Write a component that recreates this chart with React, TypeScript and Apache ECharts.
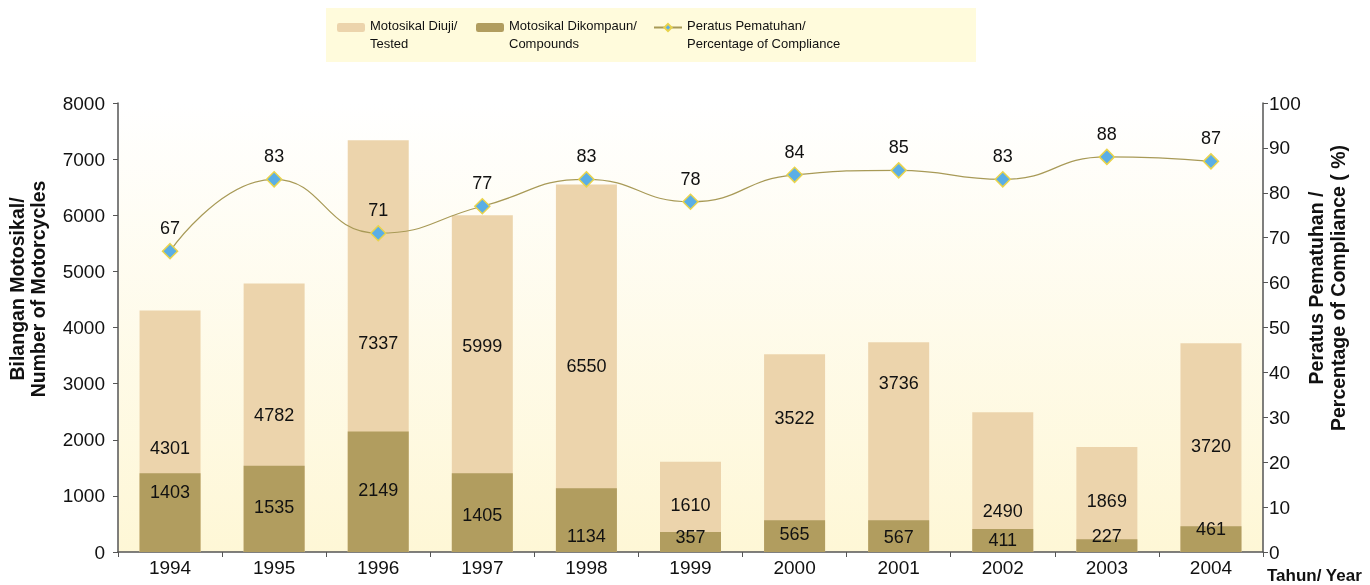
import React, { useEffect, useRef } from "react";
import * as echarts from "echarts";

const years = ["1994", "1995", "1996", "1997", "1998", "1999", "2000", "2001", "2002", "2003", "2004"];
const tested = [4301, 4782, 7337, 5999, 6550, 1610, 3522, 3736, 2490, 1869, 3720];
const compounds = [1403, 1535, 2149, 1405, 1134, 357, 565, 567, 411, 227, 461];
const compliance = [67, 83, 71, 77, 83, 78, 84, 85, 83, 88, 87];

// label nudges (pixels) to mimic the original label placement
const testedLabelShift = [17, -3, -3, -38, -2, -2, -35, -64, 29, 1, -2];
const compoundLabelShift = [-21, -2, -2, 2, 16, -5, -2, 1, 0, -10, -10];

const NAME_TESTED = "Motosikal Diuji/\nTested";
const NAME_COMP = "Motosikal Dikompaun/\nCompounds";
const NAME_PCT = "Peratus Pematuhan/\nPercentage of Compliance";

const FONT = "'Liberation Sans', Arial, Helvetica, sans-serif";

export default function App() {
  const ref = useRef<HTMLDivElement>(null);
  useEffect(() => {
    if (!ref.current) return;
    const chart = echarts.init(ref.current, undefined, { renderer: "svg" });
    const legendBase = {
      orient: "horizontal",
      top: 9,
      padding: 0,
      itemWidth: 28,
      itemHeight: 9,
      itemGap: 6,
      formatter: (name: string) =>
        "{gap| }\n" + name.split("\n").map((s) => "{t|" + s + "}").join("\n"),
      textStyle: {
        fontFamily: FONT,
        fontSize: 13,
        color: "#111",
        rich: {
          gap: { fontSize: 1, lineHeight: 14 },
          t: { fontFamily: FONT, fontSize: 13, lineHeight: 18, color: "#111" },
        },
      },
    };
    chart.setOption({
      animation: false,
      textStyle: { fontFamily: FONT },
      graphic: [
        {
          type: "rect",
          z: 0,
          shape: { x: 326, y: 8, width: 650, height: 54 },
          style: { fill: "#FFFBDC" },
        },
        {
          type: "text",
          x: 27,
          y: 289,
          rotation: Math.PI / 2,
          style: {
            text: "Bilangan Motosikal/\nNumber of Motorcycles",
            fontFamily: FONT,
            fontSize: 19.5,
            fontWeight: "bold",
            lineHeight: 21,
            align: "center",
            verticalAlign: "middle",
            fill: "#111",
          },
        },
        {
          type: "text",
          x: 1327,
          y: 288,
          rotation: Math.PI / 2,
          style: {
            text: "Peratus Pematuhan /\nPercentage of Compliance ( %)",
            fontFamily: FONT,
            fontSize: 19.5,
            fontWeight: "bold",
            lineHeight: 22,
            align: "center",
            verticalAlign: "middle",
            fill: "#111",
          },
        },
        {
          type: "text",
          x: 1267,
          y: 575,
          style: {
            text: "Tahun/ Year",
            fontFamily: FONT,
            fontSize: 17,
            fontWeight: "bold",
            align: "left",
            verticalAlign: "middle",
            fill: "#111",
          },
        },
      ],
      legend: [
        { ...legendBase, left: 337, data: [NAME_TESTED] },
        { ...legendBase, left: 476, data: [NAME_COMP] },
        { ...legendBase, left: 653, data: [NAME_PCT] },
      ],
      grid: {
        left: 118,
        right: 107,
        top: 103,
        bottom: 33,
        show: true,
        borderWidth: 0,
        backgroundColor: new echarts.graphic.LinearGradient(0, 0, 0, 1, [
          { offset: 0, color: "#FFFFFF" },
          { offset: 1, color: "#FEF7D6" },
        ]),
      },
      xAxis: {
        type: "category",
        data: years,
        axisLine: { lineStyle: { color: "#555", width: 1.5 } },
        axisTick: { show: true, alignWithLabel: false, length: 5, lineStyle: { color: "#555" } },
        axisLabel: { fontFamily: FONT, fontSize: 19, color: "#111", margin: 6 },
      },
      yAxis: [
        {
          type: "value",
          min: 0,
          max: 8000,
          interval: 1000,
          splitLine: { show: false },
          axisLine: { show: true, lineStyle: { color: "#555", width: 1.5 } },
          axisTick: { show: true, length: 5, lineStyle: { color: "#555" } },
          axisLabel: {
            fontFamily: FONT,
            fontSize: 19,
            color: "#111",
            margin: 13,
            formatter: (v: number) => String(v),
          },
        },
        {
          type: "value",
          min: 0,
          max: 100,
          interval: 10,
          position: "right",
          splitLine: { show: false },
          axisLine: { show: true, lineStyle: { color: "#555", width: 1.5 } },
          axisTick: { show: true, length: 5, lineStyle: { color: "#555" } },
          axisLabel: {
            fontFamily: FONT,
            fontSize: 19,
            color: "#111",
            margin: 6,
            formatter: (v: number) => String(v),
          },
        },
      ],
      series: [
        {
          name: NAME_TESTED,
          type: "bar",
          barWidth: 61,
          barGap: "-100%",
          itemStyle: { color: "#ECD4AC" },
          label: {
            show: true,
            position: "inside",
            fontFamily: FONT,
            fontSize: 18,
            color: "#111",
          },
          data: tested.map((v, i) => ({
            value: v,
            label: { offset: [0, testedLabelShift[i]] },
          })),
        },
        {
          name: NAME_COMP,
          type: "bar",
          barWidth: 61,
          barGap: "-100%",
          itemStyle: { color: "#B19D5F" },
          label: {
            show: true,
            position: "inside",
            fontFamily: FONT,
            fontSize: 18,
            color: "#111",
          },
          data: compounds.map((v, i) => ({
            value: v,
            label: { offset: [0, compoundLabelShift[i]] },
          })),
        },
        {
          name: NAME_PCT,
          type: "line",
          yAxisIndex: 1,
          smooth: 0.5,
          symbol: "diamond",
          symbolSize: 15,
          z: 5,
          lineStyle: { color: "#A89A57", width: 1.2 },
          itemStyle: { color: "#5AAEE6", borderColor: "#E8D34C", borderWidth: 1.5 },
          label: {
            show: true,
            position: "top",
            distance: 6,
            fontFamily: FONT,
            fontSize: 18,
            color: "#111",
          },
          data: compliance,
        },
      ],
    });
    return () => chart.dispose();
  }, []);
  return (
    <div
      ref={ref}
      style={{ position: "fixed", left: 0, top: 0, width: 1370, height: 585 }}
    />
  );
}
